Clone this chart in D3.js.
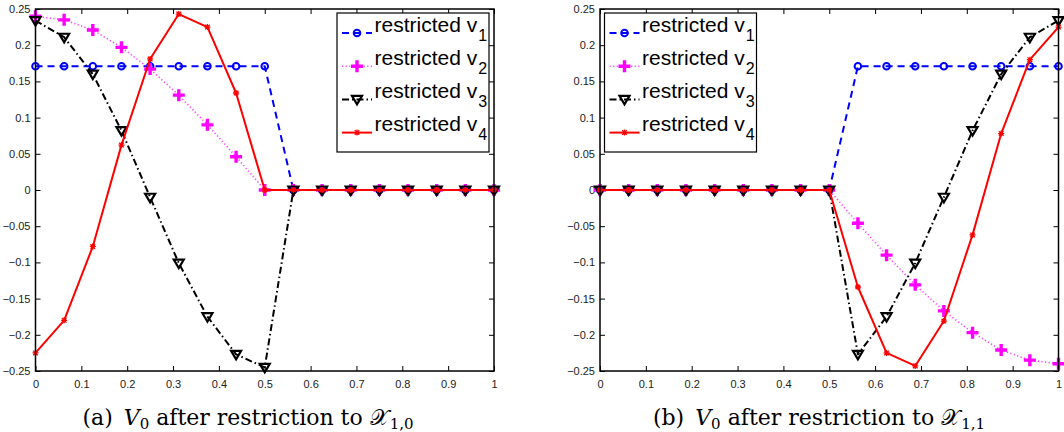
<!DOCTYPE html>
<html>
<head>
<meta charset="utf-8">
<script src="https://cdn.jsdelivr.net/npm/d3@7"></script>
<style>
  html, body { margin: 0; padding: 0; background: #fff; }
  svg { display: block; }
</style>
</head>
<body>
<div id="chart"></div>
<script>
// ── Data ─────────────────────────────────────────────────────────
const xGrid = [0, 0.0625, 0.125, 0.1875, 0.25, 0.3125, 0.375, 0.4375, 0.5,
               0.5625, 0.625, 0.6875, 0.75, 0.8125, 0.875, 0.9375, 1];

// panel (a): restriction to X_{1,0}
const a_v1 = [0.171, 0.171, 0.171, 0.171, 0.171, 0.171, 0.171, 0.171, 0.171, 0, 0, 0, 0, 0, 0, 0, 0];
const a_v2 = [0.240, 0.235, 0.221, 0.197, 0.167, 0.131, 0.090, 0.046, 0, 0, 0, 0, 0, 0, 0, 0, 0];
const a_v3 = [0.234, 0.211, 0.160, 0.082, -0.010, -0.101, -0.175, -0.227, -0.245, 0, 0, 0, 0, 0, 0, 0, 0];
const a_v4 = [-0.225, -0.180, -0.078, 0.062, 0.181, 0.243, 0.225, 0.134, 0, 0, 0, 0, 0, 0, 0, 0, 0];

// panel (b): restriction to X_{1,1}
const b_v1 = [0, 0, 0, 0, 0, 0, 0, 0, 0, 0.171, 0.171, 0.171, 0.171, 0.171, 0.171, 0.171, 0.171];
const b_v2 = [0, 0, 0, 0, 0, 0, 0, 0, 0, -0.046, -0.090, -0.131, -0.167, -0.197, -0.221, -0.235, -0.240];
const b_v3 = [0, 0, 0, 0, 0, 0, 0, 0, 0, -0.227, -0.175, -0.101, -0.010, 0.082, 0.160, 0.211, 0.234];
const b_v4 = [0, 0, 0, 0, 0, 0, 0, 0, 0, -0.134, -0.225, -0.243, -0.181, -0.062, 0.078, 0.180, 0.225];

const seriesNames = ['1', '2', '3', '4'];
const xTicks = [0, 0.1, 0.2, 0.3, 0.4, 0.5, 0.6, 0.7, 0.8, 0.9, 1];
const yTicks = [-0.25, -0.2, -0.15, -0.1, -0.05, 0, 0.05, 0.1, 0.15, 0.2, 0.25];

// ── Styles per series ────────────────────────────────────────────
const STYLES = [
  { color: '#0000ff', width: 2,   dash: '7,5',        marker: 'circle' },
  { color: '#ff00ff', width: 1.6, dash: '1.2,2.4',    marker: 'plus' },
  { color: '#000000', width: 2,   dash: '7,3,1.5,3',  marker: 'tri' },
  { color: '#ff0000', width: 2,   dash: null,         marker: 'star' },
];

const W = 1064, H = 432;
const svg = d3.select('#chart').append('svg')
  .attr('width', W).attr('height', H)
  .attr('viewBox', `0 0 ${W} ${H}`);

function drawMarker(g, kind, color, x, y) {
  if (kind === 'circle') {
    g.append('circle').attr('cx', x).attr('cy', y).attr('r', 3.3)
      .attr('fill', 'none').attr('stroke', color).attr('stroke-width', 2);
  } else if (kind === 'plus') {
    const s = 6;
    g.append('path').attr('d', `M${x - s},${y}H${x + s}M${x},${y - s}V${y + s}`)
      .attr('stroke', color).attr('stroke-width', 3.4).attr('fill', 'none');
  } else if (kind === 'tri') {
    const s = 5;
    g.append('path').attr('d', `M${x - s},${y - 3.5}L${x + s},${y - 3.5}L${x},${y + 5}Z`)
      .attr('stroke', color).attr('stroke-width', 2.2).attr('fill', 'none')
      .attr('stroke-linejoin', 'miter');
  } else if (kind === 'star') {
    const s = 3, d = 2.3;
    g.append('path')
      .attr('d', `M${x - s},${y}H${x + s}M${x},${y - s}V${y + s}M${x - d},${y - d}L${x + d},${y + d}M${x - d},${y + d}L${x + d},${y - d}`)
      .attr('stroke', color).attr('stroke-width', 1.3).attr('fill', 'none');
  }
}

function drawPanel({ left, right, top, bottom, series, legend, label, sub, capX }) {
  const x = d3.scaleLinear().domain([0, 1]).range([left, right]);
  const y = d3.scaleLinear().domain([-0.25, 0.25]).range([bottom, top]);
  const g = svg.append('g');

  // axes (ticks inside, mirrored on all sides)
  const fmtY = d => d === 0 ? '0' : (d < 0 ? '\u2212' : '') + String(Math.abs(d));
  const axB = g.append('g').attr('transform', `translate(0,${bottom})`)
    .call(d3.axisBottom(x).tickValues(xTicks).tickSizeInner(-5).tickSizeOuter(0)
      .tickPadding(9).tickFormat(d => String(d)));
  const axT = g.append('g').attr('transform', `translate(0,${top})`)
    .call(d3.axisTop(x).tickValues(xTicks).tickSizeInner(-5).tickSizeOuter(0).tickFormat(''));
  const axL = g.append('g').attr('transform', `translate(${left},0)`)
    .call(d3.axisLeft(y).tickValues(yTicks).tickSizeInner(-5).tickSizeOuter(0)
      .tickPadding(5).tickFormat(fmtY));
  const axR = g.append('g').attr('transform', `translate(${right},0)`)
    .call(d3.axisRight(y).tickValues(yTicks).tickSizeInner(-5).tickSizeOuter(0).tickFormat(''));
  [axB, axT, axL, axR].forEach(a => {
    a.select('.domain').remove();
    a.selectAll('line').attr('stroke', '#000').attr('stroke-width', 1);
    a.selectAll('text').attr('font-family', 'Liberation Sans, Arial, sans-serif')
      .attr('font-size', 11).attr('fill', '#222');
  });

  // series
  series.forEach((vals, i) => {
    const st = STYLES[i];
    const pts = xGrid.map((xv, k) => [xv, vals[k]]);
    const line = d3.line().x(d => x(d[0])).y(d => y(d[1]));
    g.append('path').datum(pts).attr('d', line)
      .attr('fill', 'none').attr('stroke', st.color).attr('stroke-width', st.width)
      .attr('stroke-dasharray', st.dash).attr('stroke-linejoin', 'round')
      .attr('opacity', i === 1 ? 0.75 : 1);
    const mg = g.append('g');
    pts.forEach(p => drawMarker(mg, st.marker, st.color, x(p[0]), y(p[1])));
  });

  // box
  g.append('rect').attr('x', left).attr('y', top)
    .attr('width', right - left).attr('height', bottom - top)
    .attr('fill', 'none').attr('stroke', '#000').attr('stroke-width', 1.5);

  // legend
  const lg = g.append('g');
  lg.append('rect').attr('x', legend.x).attr('y', legend.y)
    .attr('width', legend.w).attr('height', legend.h)
    .attr('fill', '#fff').attr('stroke', '#000').attr('stroke-width', 1.2);
  seriesNames.forEach((nm, i) => {
    const st = STYLES[i];
    const cy = legend.y + 20 + i * 33.2;
    lg.append('line').attr('x1', legend.x + 5).attr('x2', legend.x + 35)
      .attr('y1', cy).attr('y2', cy)
      .attr('stroke', st.color).attr('stroke-width', st.width)
      .attr('stroke-dasharray', st.dash).attr('opacity', i === 1 ? 0.75 : 1);
    drawMarker(lg, st.marker, st.color, legend.x + 20, cy);
    const t = lg.append('text').attr('x', legend.x + 37.5).attr('y', cy - 1.5)
      .attr('font-family', 'Liberation Sans, Arial, sans-serif')
      .attr('font-size', 21).attr('fill', '#000');
    t.append('tspan').text('restricted v');
    t.append('tspan').attr('dy', 9).attr('dx', 1).attr('font-size', 16).text(nm);
  });

  // caption
  const cap = g.append('text').attr('x', capX).attr('y', 425)
    .attr('text-anchor', 'middle')
    .attr('font-family', 'DejaVu Serif, Liberation Serif, serif')
    .attr('font-size', 22).attr('fill', '#000');
  cap.append('tspan').text(`(${label})\u2002`);
  cap.append('tspan').attr('font-style', 'italic').text('V');
  cap.append('tspan').attr('font-size', 15).attr('dy', 4).text('0');
  cap.append('tspan').attr('dy', -4).text(' after restriction to ');
  cap.append('tspan').text('\u{1D4B3}');
  cap.append('tspan').attr('font-size', 15).attr('dy', 4).attr('dx', 1).text(sub);
}

drawPanel({
  left: 35.5, right: 494, top: 9, bottom: 371,
  series: [a_v1, a_v2, a_v3, a_v4],
  legend: { x: 337, y: 13, w: 152, h: 139 },
  label: 'a', sub: '1,0', capX: 248,
});

drawPanel({
  left: 600, right: 1058.5, top: 9, bottom: 371,
  series: [b_v1, b_v2, b_v3, b_v4],
  legend: { x: 604.5, y: 13, w: 152, h: 139 },
  label: 'b', sub: '1,1', capX: 819,
});
</script>
</body>
</html>
